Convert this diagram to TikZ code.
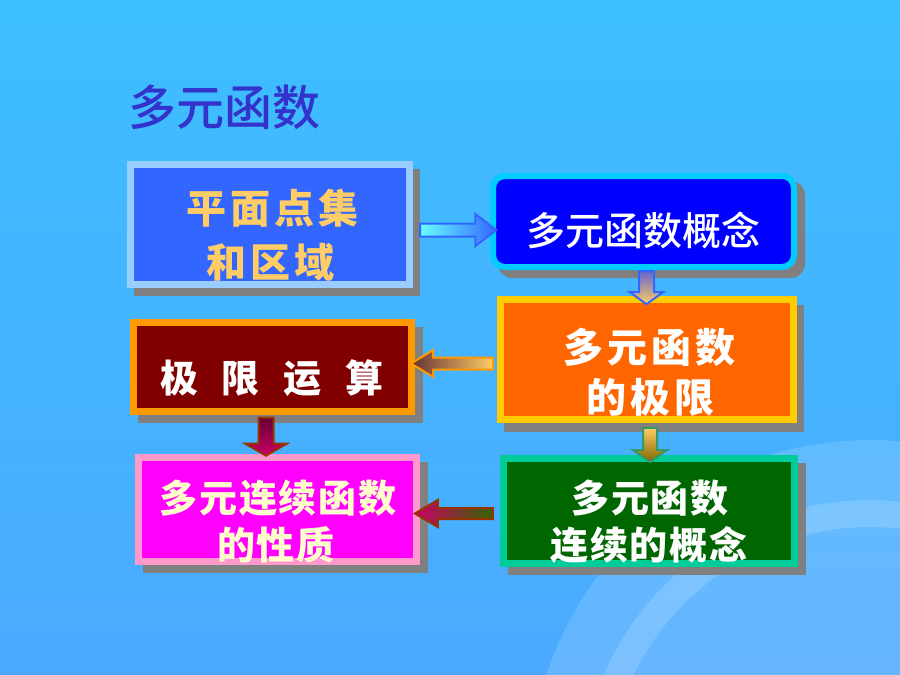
\documentclass[tikz,border=0pt]{standalone}
\usepackage{fontspec}
\newfontfamily\cjk{Noto Sans CJK SC}[BoldFont={Noto Sans CJK SC Black}]
\newfontfamily\cjkmed{Noto Sans CJK SC Medium}
\usetikzlibrary{shapes.arrows,calc}
\definecolor{bgtop}{HTML}{3DBFFF}
\definecolor{bgbot}{HTML}{4BA9FF}
\definecolor{shadowc}{HTML}{808080}
\definecolor{titlec}{HTML}{3333CC}
\definecolor{boneline}{HTML}{99CCFF}
\definecolor{bonefill}{HTML}{3366FF}
\definecolor{btwoline}{HTML}{00CCFF}
\definecolor{btwofill}{HTML}{0000FF}
\definecolor{bthreeline}{HTML}{FFCC00}
\definecolor{bthreefill}{HTML}{FF6600}
\definecolor{bfourline}{HTML}{FF9900}
\definecolor{bfourfill}{HTML}{800000}
\definecolor{bfiveline}{HTML}{FF99CC}
\definecolor{bfivefill}{HTML}{FF00FF}
\definecolor{bsixline}{HTML}{00CC99}
\definecolor{bsixfill}{HTML}{006600}
\definecolor{goldtxt}{HTML}{FFCC66}
\definecolor{creamtxt}{HTML}{FFFFCC}
\definecolor{aqua}{HTML}{66FFFF}
\definecolor{arrblue}{HTML}{3366FF}
\definecolor{lilac}{HTML}{6666CC}
\definecolor{peach}{HTML}{FFCC66}
\definecolor{brownish}{HTML}{663333}
\definecolor{arrorange}{HTML}{FF9900}
\definecolor{plum}{HTML}{660033}
\definecolor{rosered}{HTML}{CC0066}
\definecolor{rust}{HTML}{993300}
\definecolor{olive}{HTML}{806600}
\definecolor{arrgreen}{HTML}{339966}
\definecolor{darkgreen}{HTML}{336600}
\pgfdeclarelayer{bglayer}
\pgfdeclarelayer{shlayer}
\pgfsetlayers{bglayer,shlayer,main}
\begin{document}
\begin{tikzpicture}[x=1pt,y=-1pt,
  box/.style={draw, line width=7pt, inner sep=0pt},
  shadowbox/.style={fill=shadowc},
  bigtxt/.style={font=\cjk\bfseries\fontsize{40pt}{44pt}\selectfont\addfontfeature{LetterSpace=10}, inner sep=0pt, text=white},
  midtxt/.style={font=\cjk\bfseries\fontsize{38pt}{42pt}\selectfont\addfontfeature{LetterSpace=5}, inner sep=0pt, text=white},
  blockarrow/.style={single arrow, draw, line width=2pt, inner xsep=0pt, outer sep=0pt, single arrow head indent=0pt}
]
\useasboundingbox (0,0) rectangle (900,675);
\begin{pgfonlayer}{bglayer}
  \shade[top color=bgtop, bottom color=bgbot] (0,0) rectangle (900,675);
  \begin{scope}
    \clip (0,0) rectangle (900,675);
    \fill[white, opacity=0.15] (870,780) circle[radius=340];
    \fill[white, opacity=0.16, even odd rule] (870,790) circle[radius=290] (870,790) circle[radius=263];
  \end{scope}
\end{pgfonlayer}

% title
\node[font=\cjkmed\fontsize{48pt}{50pt}\selectfont, text=titlec, inner sep=0pt, anchor=west] (title) at (128,107) {多元函数};

% boxes
\node[box, draw=boneline, fill=bonefill, minimum width=279pt, minimum height=120pt] (b1) at (270,224.5) {};
\node[box, line width=6pt, rounded corners=12pt, draw=btwoline, fill=btwofill, minimum width=301pt, minimum height=91pt] (b2) at (643.5,221.5) {};
\node[box, draw=bthreeline, fill=bthreefill, minimum width=293pt, minimum height=120pt] (b3) at (647,359.5) {};
\node[box, draw=bfourline, fill=bfourfill, minimum width=278pt, minimum height=89pt] (b4) at (272.5,367) {};
\node[box, draw=bfiveline, fill=bfivefill, minimum width=278pt, minimum height=104pt] (b5) at (277.5,509.5) {};
\node[box, draw=bsixline, fill=bsixfill, minimum width=291pt, minimum height=105pt] (b6) at (649,511) {};

% shadows
\begin{pgfonlayer}{shlayer}
  \fill[shadowbox] ($(b1.north west)+(7,8)$) rectangle ($(b1.south east)+(7,8)$);
  \fill[shadowbox, rounded corners=14pt] ($(b2.north west)+(8,8)$) rectangle ($(b2.south east)+(8,8)$);
  \fill[shadowbox] ($(b3.north west)+(7,9)$) rectangle ($(b3.south east)+(7,9)$);
  \fill[shadowbox] ($(b4.north west)+(8,8)$) rectangle ($(b4.south east)+(8,8)$);
  \fill[shadowbox] ($(b5.north west)+(8,8)$) rectangle ($(b5.south east)+(8,8)$);
  \fill[shadowbox] ($(b6.north west)+(8,8)$) rectangle ($(b6.south east)+(8,8)$);
\end{pgfonlayer}

% texts
\node[bigtxt, text=goldtxt] (t1a) at (272,208) {平面点集};
\node[bigtxt, text=goldtxt] (t1b) at (270,262) {和区域};
\node[font=\cjkmed\fontsize{39pt}{42pt}\selectfont, text=white, inner sep=0pt] (t2) at (643,230) {多元函数概念};
\node[bigtxt] (t3a) at (649,347) {多元函数};
\node[bigtxt] (t3b) at (650,397) {的极限};
\node[font=\cjk\bfseries\fontsize{38pt}{42pt}\selectfont, text=white, inner sep=0pt] (t4) at (272,378) {极\hspace{24pt}限\hspace{24pt}运\hspace{24pt}算};
\node[midtxt, text=creamtxt] (t5a) at (278,498) {多元连续函数};
\node[midtxt, text=creamtxt] (t5b) at (276,545) {的性质};
\node[midtxt] (t6a) at (650,498) {多元函数};
\node[midtxt] (t6b) at (649,545) {连续的概念};

% connectors (block arrows)
\node[blockarrow, draw=arrblue, left color=aqua, right color=arrblue, inner ysep=5.5pt,
      minimum height=76pt, single arrow head extend=9.5pt, single arrow tip angle=75] (a1) at (454,230) {};
\node[blockarrow, rotate=-90, draw=arrblue, top color=lilac, bottom color=peach, inner ysep=6.5pt,
      minimum height=33pt, single arrow head extend=9pt, single arrow tip angle=108] (a2) at (646.5,285) {};
\node[blockarrow, rotate=180, draw=arrorange, left color=brownish, right color=peach, inner ysep=5pt,
      minimum height=82pt, single arrow head extend=7.5pt, single arrow tip angle=63] (a3) at (457,363.5) {};
\node[blockarrow, rotate=-90, draw=rust, top color=plum, bottom color=rosered, inner ysep=6.5pt,
      minimum height=38pt, single arrow head extend=13.5pt, single arrow tip angle=120] (a4) at (266,434.5) {};
\node[blockarrow, rotate=-90, draw=arrgreen, top color=peach, bottom color=olive, inner ysep=6pt,
      minimum height=34pt, single arrow head extend=10pt, single arrow tip angle=110] (a5) at (650,442.5) {};
\node[blockarrow, rotate=180, draw=rust, left color=rosered, right color=darkgreen, inner ysep=4.5pt,
      minimum height=78pt, single arrow head extend=8pt, single arrow tip angle=61] (a6) at (458.5,513.5) {};
\end{tikzpicture}
\end{document}
